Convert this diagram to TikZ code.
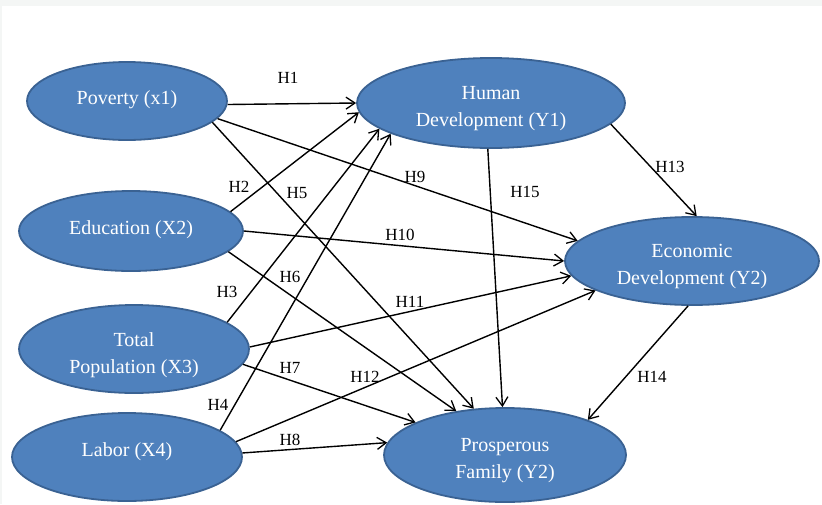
\documentclass[tikz,border=0pt]{standalone}
\usepackage{fontspec}
\setmainfont{Liberation Serif}
\usetikzlibrary{shapes.geometric,arrows.meta}
\definecolor{ellfill}{HTML}{4F81BD}
\definecolor{elldraw}{HTML}{3A6293}
\definecolor{topband}{HTML}{F4F6F5}
\tikzset{
  var/.style={ellipse, fill=ellfill, draw=elldraw, line width=1.8pt, inner sep=0pt},
  vartext/.style={text=white, align=center, inner sep=0pt, font=\fontsize{20}{27}\selectfont},
  hyp/.style={-{Straight Barb[length=9pt,width=12pt,line width=1.3pt]}, line width=1.4pt, black},
  hlab/.style={font=\fontsize{17}{20}\selectfont, text=black, inner sep=0pt}
}
\begin{document}
\begin{tikzpicture}[x=1pt,y=-1pt]
\useasboundingbox (0,0) rectangle (822,504);
\fill[white] (0,0) rectangle (822,504);
\fill[topband] (0,0) rectangle (822,6);
\fill[topband] (0,0) rectangle (2,504);

\node[var, minimum width=200pt, minimum height=78pt] (P) at (127,101) {};
\node[var, minimum width=224pt, minimum height=80pt] (E) at (131,231) {};
\node[var, minimum width=230pt, minimum height=88pt] (T) at (134,349) {};
\node[var, minimum width=230pt, minimum height=88pt] (L) at (127,457) {};
\node[var, minimum width=268pt, minimum height=90pt] (HD) at (491,103) {};
\node[var, minimum width=254pt, minimum height=88pt] (ED) at (692,261) {};
\node[var, minimum width=242pt, minimum height=94pt] (PF) at (505,455) {};

\node[vartext] (Pt) at ([yshift=1pt]P.center) {Poverty (x1)};
\node[vartext] (Et) at ([yshift=1pt]E.center) {Education (X2)};
\node[vartext] (Tt) at ([yshift=-6pt]T.center) {Total\\Population (X3)};
\node[vartext] (Lt) at ([yshift=5pt]L.center) {Labor (X4)};
\node[vartext] (HDt) at ([yshift=-6pt]HD.center) {Human\\Development (Y1)};
\node[vartext] (EDt) at ([yshift=-6pt]ED.center) {Economic\\Development (Y2)};
\node[vartext] (PFt) at ([yshift=-6pt]PF.center) {Prosperous\\Family (Y2)};

\draw[hyp] (P.-2) -- (HD.180);
\draw[hyp] (P.-14) -- (PF.124);
\draw[hyp] (P.-11) -- (ED.170);
\draw[hyp] (E.11) -- (HD.184);
\draw[hyp] (E.0) -- (ED.180);
\draw[hyp] (E.-12) -- (PF.138);
\draw[hyp] (T.16) -- (HD.193);
\draw[hyp] (T.1) -- (ED.187);
\draw[hyp] (T.-8) -- (PF.160);
\draw[hyp] (L.16.5) -- (HD.197);
\draw[hyp] (L.8) -- (ED.197);
\draw[hyp] (L.2) -- (PF.174);
\draw[hyp] (HD.-94) -- (PF.93);
\draw[hyp] (HD.-10) -- (ED.84);
\draw[hyp] (ED.-95) -- (PF.23);

\node[hlab] (h1) at (288,78) {H1};
\node[hlab] (h2) at (239,187) {H2};
\node[hlab] (h3) at (227,292) {H3};
\node[hlab] (h4) at (218,405) {H4};
\node[hlab] (h5) at (297,193) {H5};
\node[hlab] (h6) at (290,277) {H6};
\node[hlab] (h7) at (290,368) {H7};
\node[hlab] (h8) at (290,440) {H8};
\node[hlab] (h9) at (415,177) {H9};
\node[hlab] (h10) at (400,235) {H10};
\node[hlab] (h11) at (410,302) {H11};
\node[hlab] (h12) at (365,377) {H12};
\node[hlab] (h13) at (670,167) {H13};
\node[hlab] (h14) at (652,377) {H14};
\node[hlab] (h15) at (525,192) {H15};
\end{tikzpicture}
\end{document}
